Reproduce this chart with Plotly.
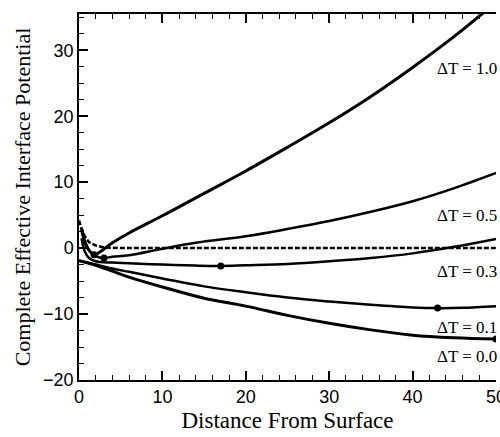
import plotly.graph_objects as go

# Data
x_dash = [0.0, 0.3, 0.7, 1.2, 2.0, 3.0, 5.0, 10, 20, 30, 40, 50]
y_dash = [4.2, 3.0, 1.8, 0.9, 0.4, 0.1, 0.0, 0.0, 0.0, 0.0, 0.0, 0.0]

x_10 = [0.3, 0.7, 1.2, 1.8, 2.5, 4, 6, 10, 15, 20, 25, 30, 35, 40, 45, 50]
y_10 = [3.0, 1.0, -0.3, -1.0, -0.6, 0.8, 2.3, 4.9, 8.3, 11.7, 15.3, 19.0, 23.0, 27.4, 32.1, 37.3]

x_05 = [0.3, 0.7, 1.2, 2, 3, 4, 6, 10, 14, 20, 25, 30, 35, 40, 45, 50]
y_05 = [2.8, 0.8, -0.4, -1.2, -1.5, -1.3, -1.1, -0.1, 0.8, 1.8, 2.9, 4.1, 5.5, 7.1, 9.1, 11.4]

x_03 = [0.3, 0.7, 1.2, 2, 4, 6, 10, 14, 17, 20, 25, 30, 35, 40, 45, 50]
y_03 = [1.5, -0.5, -1.5, -2.0, -2.2, -2.3, -2.5, -2.65, -2.7, -2.6, -2.4, -2.0, -1.5, -0.8, 0.2, 1.4]

x_01 = [0, 2, 4, 6, 10, 15, 20, 25, 30, 35, 40, 43, 46, 50]
y_01 = [-1.9, -2.5, -3.1, -3.6, -4.6, -5.8, -6.7, -7.5, -8.1, -8.6, -9.0, -9.1, -9.05, -8.8]

x_00 = [0, 2, 4, 6, 10, 15, 20, 25, 30, 35, 40, 45, 50]
y_00 = [-1.9, -2.6, -3.5, -4.4, -5.9, -7.6, -8.8, -10.2, -11.4, -12.4, -13.2, -13.6, -13.8]

min_x = [1.8, 3, 17, 43, 50]
min_y = [-1.0, -1.5, -2.7, -9.1, -13.8]

labels = ["ΔT = 1.0", "ΔT = 0.5", "ΔT = 0.3", "ΔT = 0.1", "ΔT = 0.0"]
label_y = [27.2, 5.0, -3.6, -12.0, -16.5]

fig = go.Figure()
fig.add_trace(go.Scatter(x=x_dash, y=y_dash, mode="lines",
                         line=dict(color="black", width=2.5, dash="5px,2px")))
for xs, ys, w in [(x_10, y_10, 3), (x_05, y_05, 2.5), (x_03, y_03, 2.5),
                  (x_01, y_01, 2.5), (x_00, y_00, 3)]:
    fig.add_trace(go.Scatter(x=xs, y=ys, mode="lines", line_shape="spline",
                             line=dict(color="black", width=w)))
fig.add_trace(go.Scatter(x=min_x, y=min_y, mode="markers",
                         marker=dict(color="black", size=7)))

for t, yv in zip(labels, label_y):
    fig.add_annotation(x=1.0, xref="paper", y=yv, yref="y", text=t,
                       showarrow=False, xanchor="right", xshift=3,
                       font=dict(family="Liberation Serif", size=17, color="black"))

fig.update_layout(
    width=500, height=437, autosize=False,
    margin=dict(l=79, r=4, t=14, b=57, autoexpand=False),
    paper_bgcolor="white", plot_bgcolor="white",
    showlegend=False,
    font=dict(family="Liberation Sans", size=18, color="black"),
)
fig.update_xaxes(
    automargin=False,
    range=[0, 50], tickvals=[0, 10, 20, 30, 40, 50],
    ticklabeloverflow="allow",
    ticks="inside", ticklen=9, tickwidth=1.5, tickcolor="black",
    minor=dict(dtick=2, ticks="inside", ticklen=5, tickwidth=1.2, tickcolor="black"),
    showline=True, linecolor="black", linewidth=1.5, mirror="ticks",
    showgrid=False, zeroline=False,
    tickfont=dict(family="Liberation Sans", size=18, color="black"),
    title=dict(text="Distance From Surface", standoff=6,
               font=dict(family="Liberation Serif", size=23, color="black")),
)
fig.update_yaxes(
    automargin=False,
    range=[-20, 35.5], tickvals=[-20, -10, 0, 10, 20, 30],
    ticklabeloverflow="allow",
    ticks="inside", ticklen=9, tickwidth=1.5, tickcolor="black",
    minor=dict(dtick=2.5, ticks="inside", ticklen=5, tickwidth=1.2, tickcolor="black"),
    showline=True, linecolor="black", linewidth=1.5,
    showgrid=False, zeroline=False,
    tickfont=dict(family="Liberation Sans", size=18, color="black"),
    title=dict(text="Complete Effective Interface Potential", standoff=6,
               font=dict(family="Liberation Serif", size=22, color="black")),
)
fig.write_html(
    "out.html",
    config={"displayModeBar": False, "responsive": False},
    post_script="document.body.style.margin='0';document.body.style.overflow='hidden';",
)
